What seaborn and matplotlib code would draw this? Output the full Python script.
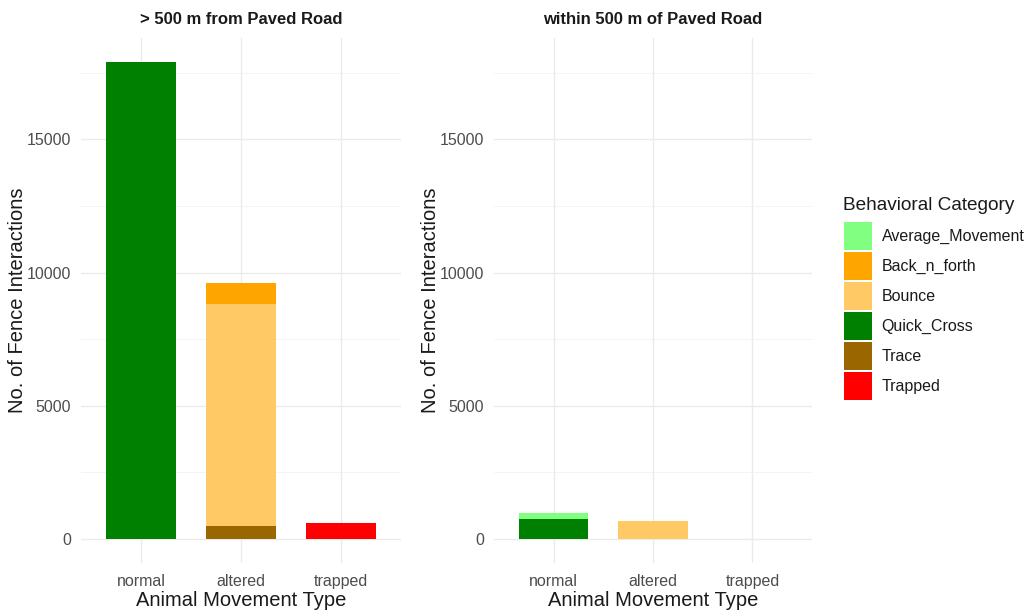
import numpy as np
import pandas as pd
import matplotlib
matplotlib.use("Agg")
import matplotlib.pyplot as plt
from matplotlib.patches import Patch
from matplotlib.ticker import MultipleLocator
import seaborn as sns

movement_types = ["normal", "altered", "trapped"]
categories = ["Average_Movement", "Back_n_forth", "Bounce", "Quick_Cross", "Trace", "Trapped"]
category_colors = ["#80FF80", "#FFA500", "#FFC966", "#008000", "#996600", "#FF0000"]
panel_titles = ["> 500 m from Paved Road", "within 500 m of Paved Road"]

# counts per behavioural category, in movement_types order
far_average = [0, 0, 0]
far_back_n_forth = [0, 780, 0]
far_bounce = [0, 8340, 0]
far_quick_cross = [17900, 0, 0]
far_trace = [0, 480, 0]
far_trapped = [0, 0, 600]

near_average = [230, 0, 0]
near_back_n_forth = [0, 0, 0]
near_bounce = [0, 680, 0]
near_quick_cross = [750, 0, 0]
near_trace = [0, 0, 0]
near_trapped = [0, 0, 0]

panels = [
    [far_average, far_back_n_forth, far_bounce, far_quick_cross, far_trace, far_trapped],
    [near_average, near_back_n_forth, near_bounce, near_quick_cross, near_trace, near_trapped],
]

sns.set_style("white")
plt.rcParams["font.family"] = ["Liberation Sans", "DejaVu Sans"]

fig = plt.figure(figsize=(10.27, 6.13), dpi=100)
axes = [
    fig.add_axes([81 / 1027, 1 - 563 / 613, 320 / 1027, 525 / 613]),
    fig.add_axes([494 / 1027, 1 - 563 / 613, 318 / 1027, 525 / 613]),
]

for ax, title, values in zip(axes, panel_titles, panels):
    df = pd.DataFrame(values, index=categories, columns=movement_types)
    # stack like ggplot: first level on top, so cumulate from the last level
    cum = df.iloc[::-1].cumsum().iloc[::-1]
    for cat, color in zip(categories, category_colors):
        sub = pd.DataFrame({"movement": movement_types, "count": cum.loc[cat].values})
        sns.barplot(data=sub, x="movement", y="count", order=movement_types,
                    color=color, saturation=1, width=0.7, errorbar=None,
                    linewidth=0, ax=ax, zorder=3)

    ax.set_xlim(-0.6, 2.6)
    ax.set_ylim(-895, 18795)
    ax.set_yticks([0, 5000, 10000, 15000])
    ax.yaxis.set_minor_locator(MultipleLocator(2500))
    ax.grid(which="major", color="#EBEBEB", linewidth=1.0, zorder=0)
    ax.grid(which="minor", axis="y", color="#F2F2F2", linewidth=0.6, zorder=0)
    ax.set_axisbelow(True)
    for s in ax.spines.values():
        s.set_visible(False)
    ax.tick_params(which="both", length=0, labelcolor="#4D4D4D", labelsize=11.5)
    ax.tick_params(axis="y", pad=7)
    ax.tick_params(axis="x", pad=8)
    ax.set_xlabel("Animal Movement Type", fontsize=14.5, color="#1A1A1A", labelpad=1)
    ax.set_ylabel("No. of Fence Interactions", fontsize=14.5, color="#1A1A1A", labelpad=0)
    ax.set_title(title, fontsize=12, fontweight="bold", color="#1A1A1A", pad=10)

fig.text(843 / 1027, 1 - 205 / 613, "Behavioral Category", fontsize=13.7,
         color="#1A1A1A", ha="left", va="center")
handles = [Patch(facecolor=c, edgecolor="none") for c in category_colors]
leg = fig.legend(handles, categories, loc="upper left",
                 bbox_to_anchor=(844 / 1027, 1 - 222 / 613),
                 frameon=False, fontsize=11.5, borderpad=0,
                 handlelength=1.75, handleheight=2.32, labelspacing=0.13,
                 handletextpad=0.6, borderaxespad=0)
for t in leg.get_texts():
    t.set_color("#1A1A1A")

fig.savefig("out.png", dpi=100)
